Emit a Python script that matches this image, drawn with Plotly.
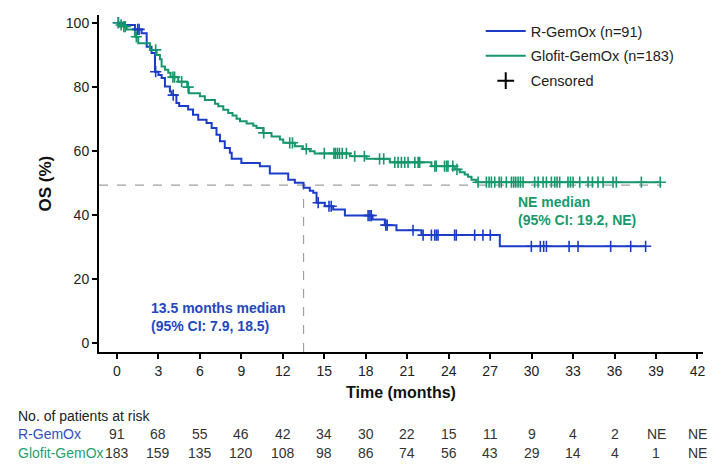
import numpy as np
import plotly.graph_objects as go

# ---------------- data ----------------
blue_name = "R-GemOx (n=91)"
green_name = "Glofit-GemOx (n=183)"

blue_t = [0, 0.58, 1.3, 1.78, 2.15, 2.5, 2.75, 3.0, 3.23, 3.47, 3.83, 3.95, 4.3, 4.5, 5.15, 5.5,
          5.88, 6.48, 6.85, 7.2, 7.45, 7.8, 8.17, 8.3, 9.0, 10.34, 11.06, 12.39, 12.87, 13.5,
          13.95, 14.2, 14.44, 15.04, 15.64, 16.49, 18.49, 19.38, 20.22, 22.03, 27.7, 38.25]
blue_s = [100, 99.3, 97.9, 96.7, 92.5, 90.5, 84.7, 83.7, 82.7, 80.1, 78.5, 77.4, 74.9, 74.0, 72.9, 71.3,
          69.7, 68.7, 67.1, 65.0, 63.0, 60.9, 59.4, 57.5, 56.2, 55.2, 52.9, 51.0, 50.0, 48.5,
          47.5, 46.9, 43.8, 42.7, 41.7, 39.8, 38.6, 36.8, 35.2, 33.7, 30.2, 30.2]
blue_cens = [0.1, 1.5, 1.6, 2.8, 4.07, 14.56, 15.34, 15.5, 18.17, 18.3, 18.4, 19.45, 19.55, 21.42,
             22.15, 22.75, 22.99, 23.11, 23.23, 24.43, 24.55, 25.88, 26.48, 27.01, 29.98, 30.63,
             30.87, 31.07, 32.71, 33.36, 35.72, 37.17, 38.25]

green_t = [0, 0.22, 0.46, 0.7, 1.3, 1.54, 2.39, 2.87, 3.11, 3.23, 3.47, 3.71, 3.88, 4.43, 5.08, 5.2,
           6.0, 6.36, 7.09, 7.33, 7.69, 8.05, 8.36, 8.65, 8.9, 9.38, 9.86, 10.1, 10.58, 11.18, 11.79,
           12.03, 12.87, 13.45, 13.95, 14.3, 16.85, 18.05, 19.74, 22.75, 24.44, 24.8, 25.16, 25.4,
           25.65, 26.0, 39.31]
green_s = [100, 99.3, 98.8, 97.9, 95.6, 93.6, 91.5, 89.9, 88.6, 86.3, 85.3, 84.4, 83.0, 81.6, 79.9, 78.0,
           77.0, 75.9, 74.7, 73.9, 72.8, 71.8, 71.0, 70.0, 69.2, 68.5, 67.8, 67.1, 65.6, 64.5, 63.5,
           62.5, 61.4, 60.6, 59.9, 59.2, 58.3, 57.5, 56.4, 55.2, 54.2, 53.3, 52.6, 51.9,
           51.0, 50.2, 50.2]
green_cens = [0.1, 0.3, 0.5, 0.6, 1.4, 2.8, 4.05, 4.17, 4.68, 5.15, 10.62, 12.5, 12.7, 13.7, 15.0,
              15.7, 15.8, 15.95, 16.1, 16.3, 16.6, 17.2, 17.9, 19.0, 19.3, 20.1, 20.34, 20.58, 20.82,
              21.06, 21.55, 21.79, 21.9, 23.0, 23.1, 23.7, 23.85, 23.95, 24.3, 24.6, 26.13, 26.73,
              26.92, 27.09, 27.33, 27.65, 27.81, 28.17, 28.54, 28.7, 28.85, 29.02, 29.19, 29.38,
              30.22, 30.47, 30.83, 31.07, 31.43, 31.67, 31.84, 32.03, 32.63, 32.81, 33.0, 33.48,
              34.08, 34.4, 34.8, 35.17, 35.89, 36.13, 37.94, 39.31]

median_blue = 13.5
median_level = 49.3
median_line_end = 39.4

x_ticks = [0, 3, 6, 9, 12, 15, 18, 21, 24, 27, 30, 33, 36, 39, 42]
y_ticks = [0, 20, 40, 60, 80, 100]
risk_blue = ["91", "68", "55", "46", "42", "34", "30", "22", "15", "11", "9", "4", "2", "NE", "NE"]
risk_green = ["183", "159", "135", "120", "108", "98", "86", "74", "56", "43", "29", "14", "4", "1", "NE"]

x_range = [-1.3, 42.4]
y_range = [-2.8, 102.4]

BLUE = "#1c3cc8"
GREEN = "#15976a"
BLUE_TXT = "#2446c0"
GREEN_TXT = "#18996c"
FONT = "Arial, Liberation Sans, sans-serif"


def step_at(ts, ss, x):
    idx = np.searchsorted(np.array(ts), np.array(x), side="right") - 1
    return list(np.array(ss)[idx])


fig = go.Figure()

for i, (ts, ss, col, name) in enumerate([(blue_t, blue_s, BLUE, blue_name),
                                         (green_t, green_s, GREEN, green_name)]):
    fig.add_trace(go.Scatter(x=ts, y=ss, mode="lines", line=dict(color=col, width=2, shape="hv"),
                             name=name, legendgroup="g%d" % i, hoverinfo="skip"))

for ts, ss, cens, col in [(blue_t, blue_s, blue_cens, BLUE), (green_t, green_s, green_cens, GREEN)]:
    fig.add_trace(go.Scatter(x=cens, y=step_at(ts, ss, cens), mode="markers",
                             marker=dict(symbol="cross-thin", size=8, color=col,
                                         line=dict(color=col, width=1.6)),
                             showlegend=False, hoverinfo="skip"))

fig.add_trace(go.Scatter(x=[None], y=[None], mode="markers", name="Censored", legendgroup="g2",
                         marker=dict(symbol="cross-thin", size=12, color="black",
                                     line=dict(color="black", width=2))))

# median reference lines
fig.add_shape(type="line", xref="x", yref="y", x0=x_range[0], x1=median_line_end,
              y0=median_level, y1=median_level, line=dict(color="#a0a0a0", width=1.2, dash="dash"),
              layer="below")
fig.add_shape(type="line", xref="x", yref="y", x0=median_blue, x1=median_blue,
              y0=y_range[0], y1=median_level, line=dict(color="#a0a0a0", width=1.2, dash="dash"),
              layer="below")

ann = []
ann.append(dict(x=2.35, y=8.1, xref="x", yref="y", xanchor="left", yanchor="middle", align="left",
                text="<b>13.5 months median<br>(95% CI: 7.9, 18.5)</b>", showarrow=False,
                font=dict(size=14, color=BLUE_TXT, family=FONT)))
ann.append(dict(x=28.9, y=41.1, xref="x", yref="y", xanchor="left", yanchor="middle", align="left",
                text="<b>NE median<br>(95% CI: 19.2, NE)</b>", showarrow=False,
                font=dict(size=14, color=GREEN_TXT, family=FONT)))
# axis titles
ann.append(dict(x=0.5, y=-0.119, xref="paper", yref="paper", xanchor="center", yanchor="middle",
                text="<b>Time (months)</b>", showarrow=False, font=dict(size=16, color="#111", family=FONT)))
ann.append(dict(x=-0.0894, y=0.5, xref="paper", yref="paper", xanchor="center", yanchor="middle",
                text="<b>OS (%)</b>", textangle=-90, showarrow=False,
                font=dict(size=17, color="#111", family=FONT)))
# risk table
ann.append(dict(x=-0.1374, y=-0.190, xref="paper", yref="paper", xanchor="left", yanchor="middle",
                text="No. of patients at risk", showarrow=False, font=dict(size=14, color="#222", family=FONT)))
ann.append(dict(x=-0.1374, y=-0.243, xref="paper", yref="paper", xanchor="left", yanchor="middle",
                text="R-GemOx", showarrow=False, font=dict(size=14, color="#3050c0", family=FONT)))
ann.append(dict(x=-0.1374, y=-0.300, xref="paper", yref="paper", xanchor="left", yanchor="middle",
                text="Glofit-GemOx", showarrow=False, font=dict(size=14, color="#1fa070", family=FONT)))
for xt, rb, rg in zip(x_ticks, risk_blue, risk_green):
    ann.append(dict(x=xt, y=-0.243, xref="x", yref="paper", xanchor="center", yanchor="middle",
                    text=rb, showarrow=False, font=dict(size=14, color="#333", family=FONT)))
    ann.append(dict(x=xt, y=-0.300, xref="x", yref="paper", xanchor="center", yanchor="middle",
                    text=rg, showarrow=False, font=dict(size=14, color="#333", family=FONT)))

fig.update_layout(
    width=726, height=474,
    margin=dict(l=99, r=23, t=15, b=122),
    paper_bgcolor="white", plot_bgcolor="white",
    font=dict(family=FONT, size=14, color="#222"),
    annotations=ann,
    legend=dict(x=0.632, y=1.0, xanchor="left", yanchor="top", bgcolor="rgba(0,0,0,0)",
                font=dict(size=14.5, color="#222", family=FONT), itemwidth=40,
                traceorder="grouped", tracegroupgap=3),
    xaxis=dict(range=x_range, tickvals=x_ticks, showgrid=False, zeroline=False,
               showline=True, linecolor="black", linewidth=2, ticks="outside", ticklen=5,
               tickwidth=2, tickcolor="black", tickfont=dict(size=14, color="#222")),
    yaxis=dict(range=y_range, tickvals=y_ticks, showgrid=False, zeroline=False,
               showline=True, linecolor="black", linewidth=2, ticks="outside", ticklen=5,
               tickwidth=2, tickcolor="black", tickfont=dict(size=14, color="#222")),
    showlegend=True,
)

fig.write_html("out.html")
